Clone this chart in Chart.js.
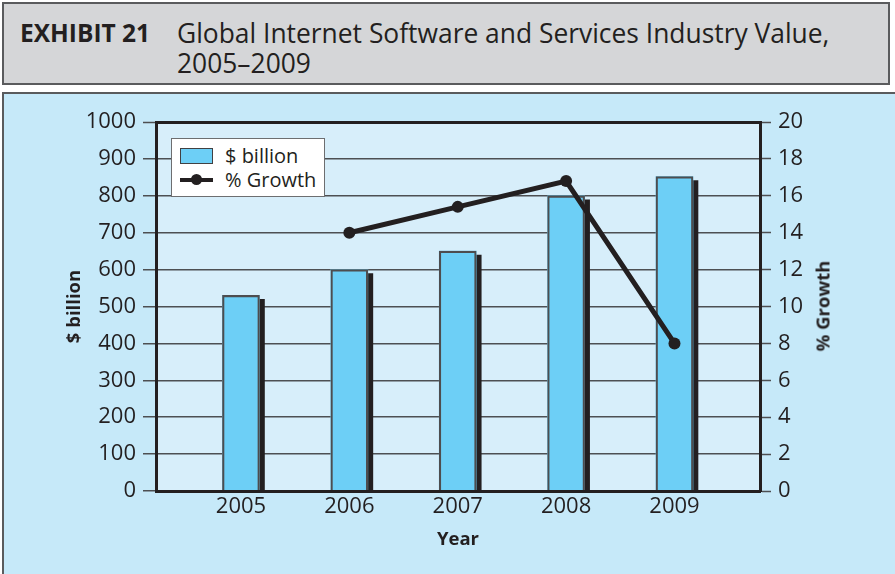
<!DOCTYPE html>
<html>
<head>
<meta charset="utf-8">
<script src="https://cdn.jsdelivr.net/npm/chart.js@4/dist/chart.umd.min.js"></script>
<style>
  body { margin: 0; width: 895px; height: 574px; position: relative; overflow: hidden; background: #fff;
         font-family: "Open Sans", sans-serif; color: #231f20; }
  #head { position: absolute; left: 2px; top: 2px; width: 884px; height: 79px; background: #d5d6d8;
          border: 2px solid #5a5b5d; }
  .t { position: absolute; font-size: 26.4px; line-height: 30px; white-space: nowrap; }
  #panel { position: absolute; left: 2px; top: 92px; width: 900px; height: 500px; background: #c6e9f9;
           border: 2px solid #5a5b5d; }
  #chart { position: absolute; left: 0; top: 94px; }
  #legend { position: absolute; left: 171px; top: 138px; width: 152px; height: 57px; background: #fff;
            border: 1px solid #6d6e70; font-size: 20px; }
  .row { position: absolute; left: 0; height: 24px; line-height: 24px; }
  .sw { position: absolute; left: 8px; top: 4px; width: 31px; height: 14px; background: #6dcff6; border: 1px solid #414042; }
  .ln { position: absolute; left: 8px; top: 10px; width: 33px; height: 4px; background: #231f20; }
  .dot { position: absolute; left: 19px; top: 6px; width: 11px; height: 11px; border-radius: 50%; background: #231f20; }
  .lab { position: absolute; left: 53px; top: 0; white-space: nowrap; }
  #ytitle2 { position: absolute; left: 822px; top: 306px; font-size: 18.5px; font-weight: bold; white-space: nowrap;
             transform: translate(-50%, -50%) rotate(-90deg); }
</style>
</head>
<body>
<div id="head"></div>
<div class="t" style="left:20px;top:18px;font-weight:bold;font-size:24.5px">EXHIBIT 21</div>
<div class="t" style="left:177px;top:18px">Global Internet Software and Services Industry Value,</div>
<div class="t" style="left:177px;top:48px">2005–2009</div>
<div id="panel"></div>
<canvas id="chart" width="895" height="480"></canvas>
<div id="legend">
  <div class="row" style="top:5px"><div class="sw"></div><div class="lab">$ billion</div></div>
  <div class="row" style="top:29px"><div class="ln"></div><div class="dot"></div><div class="lab">% Growth</div></div>
</div>
<div id="ytitle2">% Growth</div>
<script>
const years = [2005, 2006, 2007, 2008, 2009];
const billions = [530, 600, 650, 800, 852];
const growth = [null, 14.0, 15.4, 16.8, 8.0];

const ink = '#231f20';
const gridGray = '#4d4f52';
const tickFont = { family: 'Open Sans', size: 22 };
const titleFont = { family: 'Open Sans', size: 18.5, weight: 'bold' };

// plot area fill + hard drop shadow behind the bars (dataset 0 has no border, so nothing clips it)
const plotBg = {
  id: 'plotBg',
  beforeDraw(chart) {
    const { ctx, chartArea: a } = chart;
    ctx.save();
    ctx.fillStyle = '#d7eefa';
    ctx.fillRect(a.left, a.top, a.right - a.left, a.bottom - a.top);
    ctx.restore();
  },
  beforeDatasetDraw(chart, args) {
    if (args.index !== 0) return;
    const ctx = chart.ctx;
    ctx.save();
    ctx.shadowColor = ink;
    ctx.shadowOffsetX = 5;
    ctx.shadowOffsetY = 4;
    ctx.shadowBlur = 0;
  },
  afterDatasetDraw(chart, args) {
    if (args.index === 0) chart.ctx.restore();
  }
};

const barPoints = years.map((x, i) => ({ x, y: billions[i] }));

new Chart(document.getElementById('chart'), {
  type: 'bar',
  data: {
    datasets: [
      {
        type: 'bar',
        label: '$ billion',
        data: barPoints,
        backgroundColor: '#6dcff6',
        borderWidth: 0,
        barThickness: 37,
        grouped: false,
        yAxisID: 'y',
        order: 3,
        clip: { left: 0, top: 0, right: 0, bottom: -1 }
      },
      {
        // outline only, drawn over the filled bars
        type: 'bar',
        label: 'outline',
        data: barPoints,
        backgroundColor: 'rgba(0,0,0,0)',
        borderColor: '#4d4d4f',
        borderWidth: 1.5,
        barThickness: 37,
        grouped: false,
        yAxisID: 'y',
        order: 2,
        clip: { left: 0, top: 0, right: 0, bottom: -1 }
      },
      {
        type: 'line',
        label: '% Growth',
        data: years.map((x, i) => ({ x, y: growth[i] })),
        borderColor: ink,
        borderWidth: 5,
        pointRadius: 6,
        pointBackgroundColor: ink,
        pointBorderWidth: 0,
        tension: 0,
        yAxisID: 'y1',
        order: 1
      }
    ]
  },
  options: {
    responsive: false,
    animation: false,
    layout: { padding: { top: 28, left: 0, right: 0, bottom: 0 } },
    plugins: { legend: { display: false }, tooltip: { enabled: false } },
    scales: {
      x: {
        type: 'linear',
        position: 'bottom',
        offset: false,
        min: 2004.216,
        max: 2009.789,
        afterBuildTicks: s => { s.ticks = years.map(v => ({ value: v })); },
        afterFit: s => { s.height = 83; },
        grid: { drawOnChartArea: false, drawTicks: false },
        border: { color: ink, width: 3 },
        ticks: { callback: v => String(v), color: ink, font: tickFont, padding: 3, maxRotation: 0 },
        title: { display: true, text: 'Year', color: ink, font: titleFont, padding: { top: 0, bottom: 23 } }
      },
      y: {
        position: 'left',
        min: 0,
        max: 1000,
        afterFit: s => { s.width = 156; },
        grid: {
          color: c => (c.tick && c.tick.value === 1000 ? ink : gridGray),
          lineWidth: c => (c.tick && c.tick.value === 1000 ? 3 : 1.5),
          tickColor: gridGray,
          tickWidth: 1.5,
          tickLength: 13
        },
        border: { color: ink, width: 3 },
        ticks: { stepSize: 100, callback: v => String(v), color: ink, font: tickFont, padding: 7 },
        title: { display: true, text: '$ billion', color: ink, font: titleFont, padding: { top: 64, bottom: 0 } }
      },
      y1: {
        position: 'right',
        min: 0,
        max: 20,
        afterFit: s => { s.width = 135; },
        grid: { drawOnChartArea: false, tickColor: gridGray, tickWidth: 1.5, tickLength: 11 },
        border: { color: ink, width: 3 },
        ticks: { stepSize: 2, callback: v => String(v), color: ink, font: tickFont, padding: 7 }
      }
    }
  },
  plugins: [plotBg]
});
</script>
</body>
</html>
